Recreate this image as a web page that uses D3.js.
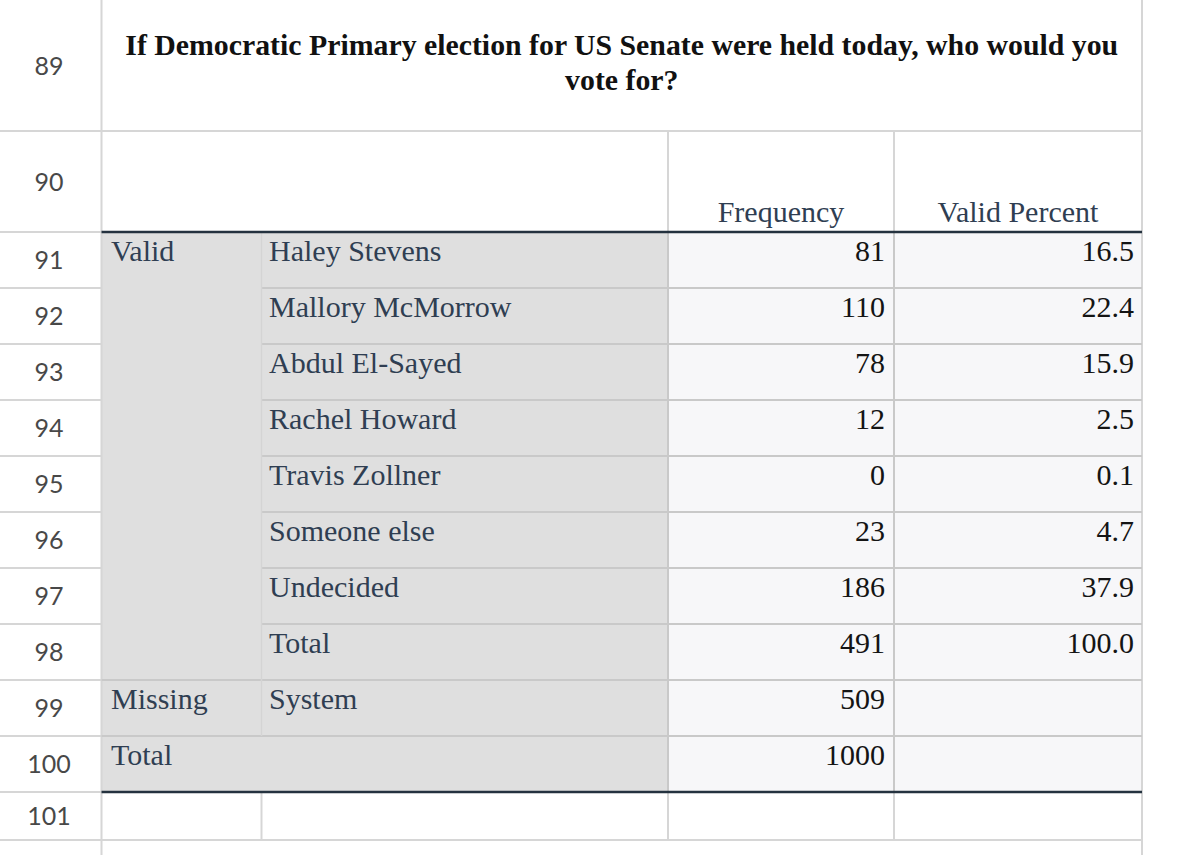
<!DOCTYPE html>
<html>
<head>
<meta charset="utf-8">
<script src="https://cdn.jsdelivr.net/npm/d3@7"></script>
<style>
  html, body { margin: 0; padding: 0; background: #ffffff; }
  svg { display: block; }
</style>
</head>
<body>
<svg id="chart" width="1200" height="855"></svg>
<script>
// ---- data ----
const titleLines = ["If Democratic Primary election for US Senate were held today, who would you", "vote for?"];
const columnHeaders = ["Frequency", "Valid Percent"];
const groupLabels = ["Valid", "Missing", "Total"];
const categories = ["Haley Stevens", "Mallory McMorrow", "Abdul El-Sayed", "Rachel Howard", "Travis Zollner", "Someone else", "Undecided", "Total", "System", ""];
const groupOf = ["Valid", "Valid", "Valid", "Valid", "Valid", "Valid", "Valid", "Valid", "Missing", "Total"];
const frequency = [81, 110, 78, 12, 0, 23, 186, 491, 509, 1000];
const validPercent = ["16.5", "22.4", "15.9", "2.5", "0.1", "4.7", "37.9", "100.0", null, null];
const rowNumbers = [89, 90, 91, 92, 93, 94, 95, 96, 97, 98, 99, 100, 101];

// ---- layout ----
const svg = d3.select("#chart");
const W = 1200, H = 855;
const colEdges = { num: 0, a: 101.5, b: 261.5, c: 668, d: 894, end: 1142 };
const titleTop = 0, headerTop = 131, bodyTop = 232, bodyBottom = 792, lastBottom = 840;

const dataRows = d3.range(categories.length);
const y = d3.scaleBand().domain(dataRows).range([bodyTop, bodyBottom]).paddingInner(0).paddingOuter(0);

const gridColor = "#d6d6d6";
const innerGrid = "#c9c9c9";
const darkLine = "#24323f";
const labelColor = "#2f3e52";
const numColor = "#141414";
const serif = "'Liberation Serif', 'Times New Roman', serif";
const bodySize = 30;

// row extents for row-number column
const rowSpans = [
  [titleTop, headerTop], [headerTop, bodyTop],
  ...dataRows.map(i => [y(i), y(i) + y.bandwidth()]),
  [bodyBottom, lastBottom]
];

// backgrounds
svg.append("rect").attr("x", colEdges.a).attr("y", bodyTop).attr("width", colEdges.c - colEdges.a).attr("height", bodyBottom - bodyTop).attr("fill", "#dfdfdf");
svg.append("rect").attr("x", colEdges.c).attr("y", bodyTop).attr("width", colEdges.end - colEdges.c).attr("height", bodyBottom - bodyTop).attr("fill", "#f7f7f9");

// sheet gridlines: row-number column horizontals
const gl = svg.append("g").attr("stroke", gridColor).attr("stroke-width", 2);
rowSpans.forEach(s => {
  gl.append("line").attr("x1", 0).attr("x2", colEdges.a).attr("y1", s[1]).attr("y2", s[1]);
});
// vertical divider of row-number column + right edge
gl.append("line").attr("x1", colEdges.a).attr("x2", colEdges.a).attr("y1", 0).attr("y2", H);
gl.append("line").attr("x1", colEdges.end).attr("x2", colEdges.end).attr("y1", 0).attr("y2", H);
// title bottom line and header verticals
gl.append("line").attr("x1", colEdges.a).attr("x2", colEdges.end).attr("y1", headerTop).attr("y2", headerTop);
[colEdges.c, colEdges.d].forEach(x => gl.append("line").attr("x1", x).attr("x2", x).attr("y1", headerTop).attr("y2", bodyTop));
// last row
gl.append("line").attr("x1", colEdges.a).attr("x2", colEdges.end).attr("y1", lastBottom).attr("y2", lastBottom);
[colEdges.b, colEdges.c, colEdges.d].forEach(x => gl.append("line").attr("x1", x).attr("x2", x).attr("y1", bodyBottom).attr("y2", lastBottom));

// inner table gridlines
const ig = svg.append("g").attr("stroke", innerGrid).attr("stroke-width", 2);
dataRows.slice(0, -1).forEach(i => {
  const yy = y(i) + y.bandwidth();
  const startX = groupOf[i] === groupOf[i + 1] ? colEdges.b : colEdges.a;
  ig.append("line").attr("x1", startX).attr("x2", colEdges.end).attr("y1", yy).attr("y2", yy);
});
// verticals in body
[colEdges.c, colEdges.d].forEach(x => ig.append("line").attr("x1", x).attr("x2", x).attr("y1", bodyTop).attr("y2", bodyBottom));
// divider between group label and category (not in Total row)
dataRows.forEach(i => {
  if (groupOf[i] !== "Total") {
    ig.append("line").attr("x1", colEdges.b).attr("x2", colEdges.b).attr("y1", y(i)).attr("y2", y(i) + y.bandwidth())
      .attr("stroke", "#d4d4d4").attr("stroke-width", 1.5);
  }
});

// thick top/bottom lines
svg.append("line").attr("x1", colEdges.a).attr("x2", colEdges.end).attr("y1", bodyTop).attr("y2", bodyTop).attr("stroke", darkLine).attr("stroke-width", 2.5);
svg.append("line").attr("x1", colEdges.a).attr("x2", colEdges.end).attr("y1", bodyBottom).attr("y2", bodyBottom).attr("stroke", darkLine).attr("stroke-width", 2.5);

// row numbers
svg.append("g").selectAll("text").data(rowNumbers).join("text")
  .attr("x", 49)
  .attr("y", (d, i) => (rowSpans[i][0] + rowSpans[i][1]) / 2)
  .attr("dy", "0.36em")
  .attr("text-anchor", "middle")
  .attr("font-family", "Lato, 'Open Sans', sans-serif")
  .attr("font-weight", 400)
  .attr("font-size", 25)
  .attr("fill", "#484848")
  .text(d => d);

// title
svg.append("g").selectAll("text").data(titleLines).join("text")
  .attr("x", (colEdges.a + colEdges.end) / 2)
  .attr("y", (d, i) => 55 + i * 35)
  .attr("text-anchor", "middle")
  .attr("font-family", serif)
  .attr("font-weight", "bold")
  .attr("font-size", 29.8)
  .attr("fill", "#111")
  .text(d => d);

// column headers
const headerX = [(colEdges.c + colEdges.d) / 2, (colEdges.d + colEdges.end) / 2];
svg.append("g").selectAll("text").data(columnHeaders).join("text")
  .attr("x", (d, i) => headerX[i])
  .attr("y", 222)
  .attr("text-anchor", "middle")
  .attr("font-family", serif)
  .attr("font-size", bodySize)
  .attr("fill", labelColor)
  .text(d => d);

const baseOff = 29;
// group labels (first row of each group)
const groupFirst = groupLabels.map(g => groupOf.indexOf(g));
svg.append("g").selectAll("text").data(groupLabels).join("text")
  .attr("x", 111)
  .attr("y", (d, i) => y(groupFirst[i]) + baseOff)
  .attr("font-family", serif)
  .attr("font-size", bodySize)
  .attr("fill", labelColor)
  .text(d => d);

// category labels
svg.append("g").selectAll("text").data(categories).join("text")
  .attr("x", 269)
  .attr("y", (d, i) => y(i) + baseOff)
  .attr("font-family", serif)
  .attr("font-size", bodySize)
  .attr("fill", labelColor)
  .text(d => d);

// frequency
svg.append("g").selectAll("text").data(frequency).join("text")
  .attr("x", 885)
  .attr("y", (d, i) => y(i) + baseOff)
  .attr("text-anchor", "end")
  .attr("font-family", serif)
  .attr("font-size", bodySize)
  .attr("fill", numColor)
  .text(d => d);

// valid percent
svg.append("g").selectAll("text").data(validPercent).join("text")
  .attr("x", 1134)
  .attr("y", (d, i) => y(i) + baseOff)
  .attr("text-anchor", "end")
  .attr("font-family", serif)
  .attr("font-size", bodySize)
  .attr("fill", numColor)
  .text(d => d === null ? "" : d);
</script>
</body>
</html>
